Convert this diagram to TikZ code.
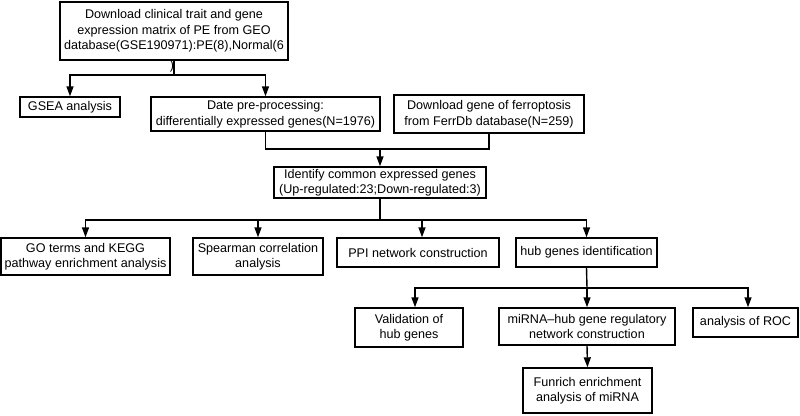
\documentclass[tikz,border=0pt]{standalone}
\usepackage{fontspec}
\setmainfont{Liberation Sans}
\usetikzlibrary{arrows.meta}
\begin{document}
\begin{tikzpicture}[x=1pt,y=-1pt,
  box/.style={draw, line width=1.4pt, align=center, inner sep=0pt, font=\fontsize{12.6}{15.5}\selectfont},
  ln/.style={line width=1.4pt},
  arr/.style={line width=1.4pt, -{Triangle[width=7pt,length=10pt]}}]
\useasboundingbox (0,0) rectangle (800,415);
\node[box, minimum width=228, minimum height=58] (top) at (174,31) {Download clinical trait and gene\\expression matrix of PE from GEO\\database(GSE190971):PE(8),Normal(6};
\node[inner sep=0pt, font=\fontsize{12.6}{15.5}\selectfont] (paren) at (172,66) {)};
\node[box, minimum width=100, minimum height=20] (gsea) at (70,107) {GSEA analysis};
\node[box, minimum width=229, minimum height=34] (date) at (265.5,114) {Date pre-processing:\\differentially expressed genes(N=1976)};
\node[box, minimum width=190, minimum height=38] (ferr) at (489,114) {Download gene of ferroptosis\\from FerrDb database(N=259)};
\node[box, minimum width=212, minimum height=31] (ident) at (380,182.5) {Identify common expressed genes\\(Up-regulated:23;Down-regulated:3)};
\node[box, minimum width=169, minimum height=37] (go) at (85.5,256.5) {GO terms and KEGG\\pathway enrichment analysis};
\node[box, minimum width=130, minimum height=37] (spear) at (258,256.5) {Spearman correlation\\analysis};
\node[box, minimum width=162, minimum height=29] (ppi) at (418,252.5) {PPI network construction};
\node[box, minimum width=141, minimum height=29] (hub) at (586.5,252.5) {hub genes identification};
\node[box, minimum width=108, minimum height=39] (valid) at (409,327.5) {Validation of\\hub genes};
\node[box, minimum width=176, minimum height=37] (mirna) at (587,326.5) {miRNA--hub gene regulatory\\network construction};
\node[box, minimum width=105, minimum height=29] (roc) at (745.5,322.5) {analysis of ROC};
\node[box, minimum width=129, minimum height=45] (fun) at (587.5,390.5) {Funrich enrichment\\analysis of miRNA};
\coordinate (j1) at (174,75);
\coordinate (j2) at (380,149);
\coordinate (j3) at (380,220);
\coordinate (j4) at (587,288);
\draw[ln] (top.south) -- (j1);
\draw[arr] (j1) -| (gsea.north);
\draw[arr] (j1) -| (date.north);
\draw[ln] (date.south) |- (j2);
\draw[ln] (ferr.south) |- (j2);
\draw[arr] (j2) -- (ident.north);
\draw[ln] (ident.south) -- (j3);
\draw[arr] (j3) -| (go.north);
\draw[arr] (j3) -| (spear.north);
\draw[arr] (j3) -| ([xshift=4]ppi.north);
\draw[arr] (j3) -| (hub.north);
\draw[ln] (hub.south) -- (j4);
\draw[arr] (j4) -| ([xshift=6]valid.north);
\draw[arr] (j4) -- (mirna.north);
\draw[arr] (j4) -| ([xshift=2.5]roc.north);
\draw[arr] (mirna.south) -- (fun.north);
\end{tikzpicture}
\end{document}
